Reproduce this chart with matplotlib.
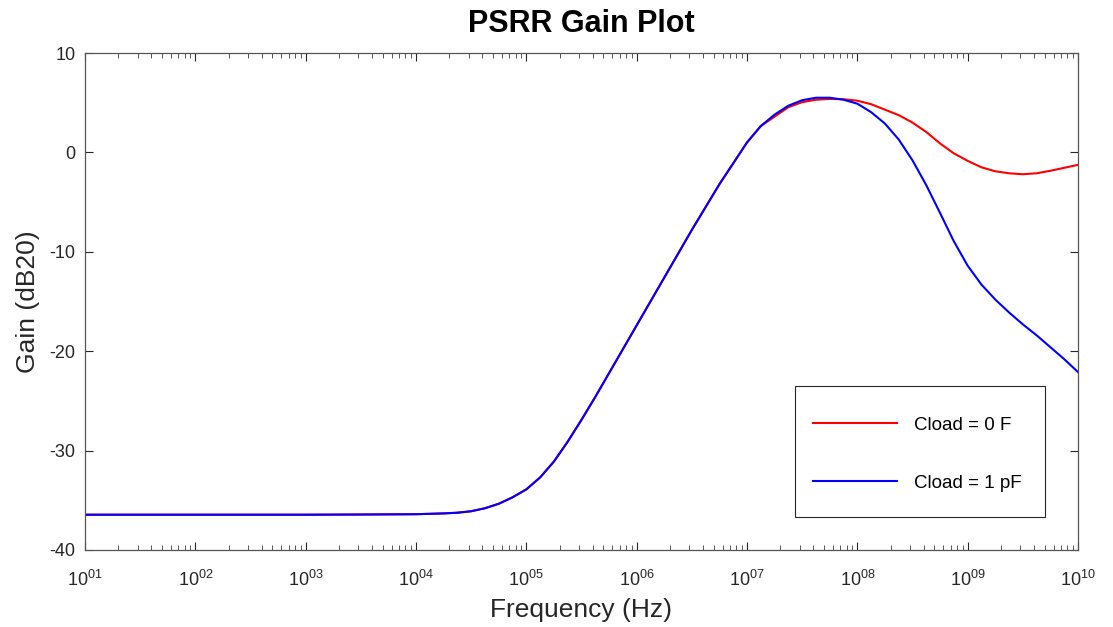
import math
import matplotlib
matplotlib.use('Agg')
import matplotlib.pyplot as plt
from matplotlib.patches import Rectangle
from matplotlib.ticker import FixedLocator, FuncFormatter, LogLocator, NullFormatter

plt.rcParams['font.family'] = ['Liberation Sans', 'DejaVu Sans']
plt.rcParams['mathtext.fontset'] = 'custom'
plt.rcParams['mathtext.rm'] = 'Liberation Sans'
plt.rcParams['axes.unicode_minus'] = False

# log10 of frequency (Hz) and gain (dB20)
logf_common = [1.0, 1.5, 2.0, 2.5, 3.0, 3.5, 4.0, 4.25, 4.375, 4.5, 4.625, 4.75,
               4.875, 5.0, 5.125, 5.25, 5.375, 5.5, 5.625, 5.75, 5.875, 6.0,
               6.125, 6.25, 6.375, 6.5, 6.625, 6.75, 6.875, 7.0, 7.125]
gain_common = [-36.45, -36.45, -36.45, -36.45, -36.45, -36.43, -36.4, -36.32, -36.25,
               -36.1, -35.8, -35.35, -34.7, -33.9, -32.7, -31.1, -29.1, -26.9, -24.6,
               -22.2, -19.8, -17.4, -15.0, -12.6, -10.2, -7.8, -5.5, -3.2, -1.1,
               1.0, 2.65]

logf_tail = [7.25, 7.375, 7.5, 7.625, 7.75, 7.875, 8.0, 8.125, 8.25, 8.375,
             8.5, 8.625, 8.75, 8.875, 9.0, 9.125, 9.25, 9.375, 9.5, 9.625,
             9.75, 9.875, 10.0]
gain_c0 = [3.6, 4.55, 5.05, 5.3, 5.38, 5.35, 5.2, 4.85, 4.3, 3.75,
           3.0, 2.05, 0.9, -0.1, -0.85, -1.5, -1.9, -2.1, -2.2, -2.1,
           -1.85, -1.55, -1.25]
gain_c1 = [3.8, 4.7, 5.25, 5.5, 5.5, 5.3, 4.9, 4.05, 2.9, 1.3,
           -0.8, -3.3, -6.1, -8.95, -11.4, -13.3, -14.8, -16.1, -17.3, -18.4,
           -19.6, -20.8, -22.1]

labels = ['Cload = 0 F', 'Cload = 1 pF']
colors = ['#ff0000', '#0000ff']

freq = [10 ** v for v in logf_common + logf_tail]
fig = plt.figure(figsize=(11.13, 6.27), dpi=100)
ax = fig.add_axes([85 / 1113, 1 - 550 / 627, 993 / 1113, 497 / 627])

ax.plot(freq, gain_common + gain_c0, color=colors[0], lw=1.5, label=labels[0])
ax.plot(freq, gain_common + gain_c1, color=colors[1], lw=1.5, label=labels[1])

ax.set_xscale('log')
ax.set_xlim(1e1, 1e10)
ax.set_ylim(-40, 10)
ax.xaxis.set_major_locator(FixedLocator([10.0 ** k for k in range(1, 11)]))
ax.xaxis.set_major_formatter(FuncFormatter(
    lambda v, p: r'$\mathregular{10^{%02d}}$' % round(math.log10(v))))
ax.xaxis.set_minor_locator(LogLocator(base=10, subs=range(2, 10), numticks=100))
ax.xaxis.set_minor_formatter(NullFormatter())
ax.set_yticks([-40, -30, -20, -10, 0, 10])
ax.set_yticklabels(['-40', '-30', '-20', '-10', '0', '10'])

ax.tick_params(which='both', direction='in', top=True, right=True,
               colors='#262626', labelsize=13, labelcolor='#262626')
ax.tick_params(which='major', length=6, width=0.8)
ax.tick_params(axis='x', which='major', pad=14)
ax.tick_params(axis='y', which='major', pad=7)
ax.tick_params(which='minor', length=3.5, width=0.7, colors='#555555')
for s in ax.spines.values():
    s.set_color('#555555')
    s.set_linewidth(0.9)

ax.set_title('PSRR Gain Plot', fontsize=22, fontweight='bold', pad=15)
ax.set_xlabel('Frequency (Hz)', fontsize=19, color='#262626', labelpad=6)
ax.set_ylabel('Gain (dB20)', fontsize=19, color='#262626', labelpad=7)

ax.add_patch(Rectangle((0.715, 0.0664), 0.2518, 0.2636, transform=ax.transAxes,
                       facecolor='white', edgecolor='#262626', lw=0.8, zorder=4))
leg = ax.legend(loc='upper left', bbox_to_anchor=(0.733, 0.268), fontsize=13.5,
                frameon=False, handlelength=4.5, handletextpad=0.9,
                labelspacing=2.17, borderpad=0, borderaxespad=0)
leg.set_zorder(5)

fig.savefig('out.png', dpi=100)
